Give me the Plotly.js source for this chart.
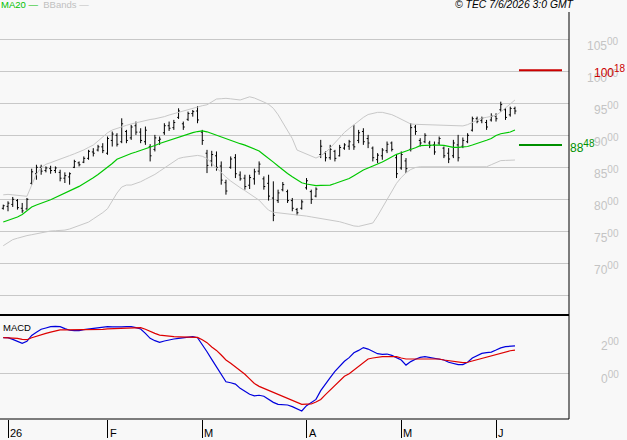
<!DOCTYPE html>
<html><head><meta charset="utf-8">
<script src="https://cdn.plot.ly/plotly-3.0.1.min.js"></script>
<style>html,body{margin:0;padding:0;background:#f8f8f8;}#chart{width:627px;height:440px;}</style>
</head><body><div id="chart"></div>
<script>
const dates = ["2025-12-31",
"2026-01-02","2026-01-05","2026-01-06","2026-01-07","2026-01-08","2026-01-09","2026-01-12","2026-01-13","2026-01-14","2026-01-15","2026-01-16","2026-01-19","2026-01-20","2026-01-21","2026-01-22","2026-01-23","2026-01-26","2026-01-27","2026-01-28","2026-01-29","2026-01-30",
"2026-02-02","2026-02-03","2026-02-04","2026-02-05","2026-02-06","2026-02-09","2026-02-10","2026-02-11","2026-02-12","2026-02-13","2026-02-16","2026-02-17","2026-02-18","2026-02-19","2026-02-20","2026-02-23","2026-02-24","2026-02-25","2026-02-26","2026-02-27",
"2026-03-02","2026-03-03","2026-03-04","2026-03-05","2026-03-06","2026-03-09","2026-03-10","2026-03-11","2026-03-12","2026-03-13","2026-03-16","2026-03-17","2026-03-18","2026-03-19","2026-03-20","2026-03-23","2026-03-24","2026-03-25","2026-03-26","2026-03-27","2026-03-30","2026-03-31",
"2026-04-01","2026-04-02","2026-04-07","2026-04-08","2026-04-09","2026-04-10","2026-04-13","2026-04-14","2026-04-15","2026-04-16","2026-04-17","2026-04-20","2026-04-21","2026-04-22","2026-04-23","2026-04-24","2026-04-27","2026-04-28","2026-04-29","2026-04-30",
"2026-05-04","2026-05-05","2026-05-06","2026-05-07","2026-05-08","2026-05-11","2026-05-12","2026-05-13","2026-05-14","2026-05-15","2026-05-18","2026-05-19","2026-05-20","2026-05-21","2026-05-22","2026-05-25","2026-05-26","2026-05-27","2026-05-28","2026-05-29",
"2026-06-01","2026-06-02","2026-06-03","2026-06-04","2026-06-05"];

const openP = [78.6,78.9,79.2,79.8,78.6,78.5,82.5,84.0,85.0,84.5,
84.8,84.5,84.2,83.3,83.5,85.0,85.7,85.8,86.4,87.4,
87.7,88.2,87.2,89.2,90.0,89.0,90.6,89.6,91.5,90.5,
89.0,88.2,87.8,89.2,90.4,91.5,91.2,92.8,91.8,92.5,
93.4,93.8,90.5,87.2,86.0,86.8,85.2,82.6,85.0,86.5,
83.8,83.3,82.2,83.2,84.4,83.2,82.5,80.2,79.8,81.5,
81.2,79.8,78.4,78.6,81.8,81.2,80.5,87.0,87.2,86.5,
87.5,86.8,88.0,88.3,88.5,89.2,90.6,89.5,88.0,86.2,
86.8,87.6,88.8,86.5,84.9,86.0,87.8,91.3,89.2,89.0,
88.8,88.5,88.8,88.0,87.2,86.8,88.5,88.3,89.0,90.8,
92.6,92.3,92.0,92.4,93.0,94.0,94.0,93.2,94.2];

const highP = [79.17,79.69,80.37,80.05,79.43,80.21,84.78,85.40,85.40,85.14,
85.24,85.14,84.62,84.21,84.21,86.18,85.92,86.70,87.73,87.99,
88.51,88.77,89.81,90.59,90.33,92.66,90.85,91.63,92.15,91.11,
91.37,88.62,90.07,89.81,91.89,92.15,92.41,94.22,92.15,93.70,
93.96,94.58,90.85,87.73,87.58,87.48,85.92,83.06,86.70,87.06,
84.36,83.84,83.84,84.78,85.92,83.58,83.84,82.81,81.51,82.70,
81.51,80.21,78.65,79.95,83.32,81.51,81.87,89.29,87.48,88.51,
87.73,88.51,88.77,89.29,91.63,90.85,91.11,90.07,88.25,87.22,
88.00,89.03,89.03,86.96,87.48,86.44,91.89,91.63,89.55,90.33,
89.14,89.03,89.81,88.25,88.00,89.29,90.07,89.66,90.33,92.92,
92.92,92.92,92.41,93.44,93.44,95.26,94.22,94.48,94.48];

const lowP = [78.39,78.13,78.81,78.39,77.88,78.39,82.29,83.06,83.84,84.21,
84.00,84.10,82.81,82.55,82.29,84.88,85.14,85.66,86.18,86.70,
87.48,87.22,86.96,88.25,88.25,88.77,88.77,89.29,90.07,88.77,
88.51,85.92,87.48,88.51,90.07,90.69,90.85,92.56,90.85,92.25,
92.92,91.89,88.51,84.10,85.14,84.47,82.29,80.73,84.78,83.32,
82.91,81.51,81.61,82.29,83.84,81.51,79.80,76.58,79.43,81.25,
79.43,78.13,77.51,78.39,81.51,79.28,80.31,86.44,85.92,86.18,
85.92,86.70,87.73,87.73,87.73,88.77,88.51,88.00,85.92,85.66,
86.18,87.22,87.48,83.32,84.62,84.10,87.48,90.07,88.25,88.77,
88.00,86.96,88.51,86.44,85.66,86.44,85.92,88.00,88.77,90.59,
91.89,91.89,90.85,92.15,92.15,93.70,92.41,92.92,93.29];

const closeP = [79.0,79.4,80.0,78.7,78.2,80.0,84.3,85.0,84.4,84.9,
84.5,84.9,83.3,83.7,84.0,85.9,85.4,86.4,87.5,87.2,
88.2,87.6,89.5,90.2,88.6,91.8,89.2,91.3,90.5,89.2,
90.8,86.8,89.6,89.4,91.5,91.1,92.0,93.8,91.3,93.4,
93.7,92.4,89.2,85.3,87.0,85.0,83.0,81.3,86.3,84.0,
83.2,82.0,83.4,84.3,85.5,82.0,80.5,77.5,81.0,82.3,
79.8,78.6,77.9,79.6,82.9,80.0,81.6,88.3,86.5,87.8,
86.4,88.1,88.5,89.0,88.2,90.4,89.0,88.8,86.5,86.9,
87.7,88.6,87.8,84.0,87.0,84.8,91.2,90.6,88.8,90.0,
88.4,87.4,89.5,86.8,86.3,88.8,86.5,89.2,90.0,92.6,
92.2,92.7,91.3,93.0,92.6,94.8,92.8,94.2,93.8];

const ma20 = [76.45,76.69,76.97,77.23,77.63,78.17,78.80,79.11,79.34,79.66,
79.94,80.31,80.67,81.02,81.34,81.67,82.02,82.44,82.86,83.38,
83.89,84.42,84.95,85.61,86.27,86.61,86.92,87.16,87.39,87.63,
87.86,88.06,88.41,88.72,88.97,89.20,89.45,89.70,89.95,90.20,
90.42,90.59,90.70,90.55,90.27,89.98,89.72,89.44,89.16,88.91,
88.69,88.47,88.17,87.86,87.55,86.95,86.42,85.81,85.20,84.58,
84.05,83.53,83.00,82.58,82.39,82.20,82.13,82.17,82.20,82.23,
82.47,82.70,82.92,83.25,83.69,84.16,84.59,84.89,85.19,85.47,
85.83,86.23,86.64,87.03,87.27,87.50,87.75,88.06,88.39,88.46,
88.50,88.49,88.47,88.44,88.28,88.13,88.12,88.13,88.25,88.48,
88.70,88.98,89.23,89.50,89.97,90.25,90.34,90.52,90.83];

const bbUpper = [80.70,80.77,80.70,80.59,80.48,80.47,82.23,83.95,84.95,85.48,
85.73,85.98,86.27,86.55,86.83,87.11,87.39,87.72,88.11,88.48,
89.11,89.78,90.39,90.83,91.11,91.33,91.56,91.78,91.97,92.16,
92.33,92.47,92.58,92.70,92.92,93.17,93.39,93.61,93.80,94.02,
94.23,94.47,94.63,94.77,95.20,95.67,95.72,95.78,95.70,95.61,
95.52,95.77,96.02,95.83,95.56,95.20,94.84,94.22,93.22,92.00,
90.83,89.50,87.70,87.39,87.08,86.77,86.45,86.81,87.31,88.03,
88.88,89.69,90.45,91.06,91.69,92.23,92.80,93.25,93.41,93.59,
93.59,93.42,93.23,92.89,92.48,92.11,91.77,91.72,91.69,91.67,
91.66,91.64,91.63,91.61,91.58,91.55,91.50,91.47,91.67,91.98,
92.36,92.70,92.81,92.92,93.13,93.66,94.30,94.89,95.52];

const bbLower = [72.75,73.27,73.70,73.92,74.16,74.33,74.47,74.63,74.77,74.92,
75.05,75.09,75.14,75.19,75.36,75.61,75.86,76.09,76.44,76.94,
77.42,77.92,78.53,79.77,80.98,81.92,82.23,82.23,82.44,82.75,
83.13,83.48,83.89,84.39,84.89,85.36,85.86,86.38,86.56,86.64,
86.73,86.86,86.73,86.38,85.63,84.86,84.16,83.48,82.86,82.30,
81.83,81.36,80.88,80.39,79.86,79.05,78.30,77.98,77.91,77.81,
77.73,77.67,77.59,77.50,77.38,77.25,77.14,77.02,76.89,76.77,
76.63,76.50,76.28,76.06,75.84,75.77,75.92,76.08,76.30,77.41,
78.70,79.98,81.23,82.50,83.41,84.13,84.66,84.97,85.09,85.09,
85.09,85.09,85.09,85.09,85.05,85.05,85.05,85.05,85.05,85.05,
85.00,85.05,85.09,85.41,85.75,86.05,86.08,86.11,86.14];

const macd = [2.14,2.14,2.04,1.92,1.80,1.92,2.28,2.47,2.65,2.73,
2.81,2.83,2.81,2.69,2.59,2.57,2.57,2.63,2.67,2.71,
2.75,2.79,2.81,2.79,2.77,2.79,2.81,2.81,2.75,2.67,
2.40,2.10,1.96,1.86,1.94,2.02,2.06,2.10,2.14,2.16,
2.20,2.14,1.74,1.29,0.83,0.38,-0.08,-0.53,-0.59,-0.67,
-0.93,-1.11,-1.29,-1.39,-1.35,-1.41,-1.60,-1.78,-1.90,-1.94,
-1.94,-2.04,-2.18,-2.30,-1.98,-1.80,-1.60,-1.07,-0.65,-0.28,
0.10,0.42,0.71,0.93,1.23,1.37,1.54,1.45,1.31,1.17,
1.13,1.15,1.07,0.95,0.79,0.48,0.69,0.83,0.95,0.99,
0.95,0.87,0.83,0.79,0.65,0.57,0.51,0.51,0.65,0.91,
1.07,1.19,1.23,1.27,1.39,1.52,1.60,1.64,1.64];

const signal = [2.14,2.14,2.14,2.10,2.04,2.02,2.14,2.24,2.32,2.40,
2.48,2.55,2.61,2.61,2.61,2.61,2.61,2.61,2.63,2.63,
2.64,2.65,2.67,2.68,2.70,2.71,2.73,2.74,2.76,2.75,
2.65,2.51,2.40,2.30,2.26,2.22,2.20,2.19,2.18,2.18,
2.17,2.16,2.02,1.84,1.58,1.37,1.09,0.79,0.59,0.38,
0.16,-0.08,-0.36,-0.63,-0.81,-0.93,-1.05,-1.17,-1.29,-1.41,
-1.53,-1.66,-1.78,-1.90,-1.89,-1.88,-1.76,-1.60,-1.31,-1.03,
-0.75,-0.44,-0.20,-0.04,0.18,0.40,0.65,0.85,0.91,0.97,
0.99,0.99,0.99,0.99,0.91,0.85,0.85,0.85,0.85,0.85,
0.85,0.85,0.85,0.79,0.75,0.69,0.64,0.63,0.65,0.73,
0.80,0.87,0.97,1.05,1.13,1.21,1.27,1.35,1.39];

const tickDates = ["2026-01-02","2026-02-02","2026-03-02","2026-04-01","2026-05-04","2026-06-01"];
const tickLabels = ["26","F","M","A","M","J"];
const priceGrid = [65,70,75,80,85,90,95,100,105];
const priceLabels = [70,75,80,85,90,95,100,105];
const macdLabels = [0,2];
const levelValues = [100.18, 88.48];
const levelColors = ["#cc0000", "#009000"];

const FONT = "Liberation Sans, Arial, sans-serif";

function supText(v) {
  const parts = v.toFixed(2).split(".");
  return parts[0] + '<sup><span style="font-size:10px">' + parts[1] + "</span></sup>";
}

const traces = [
  {type:"scatter", mode:"lines", x:dates, y:bbUpper, xaxis:"x", yaxis:"y",
   line:{color:"#c8c8c8", width:1}, hoverinfo:"skip"},
  {type:"scatter", mode:"lines", x:dates, y:bbLower, xaxis:"x", yaxis:"y",
   line:{color:"#c8c8c8", width:1}, hoverinfo:"skip"},
  {type:"scatter", mode:"lines", x:dates, y:ma20, xaxis:"x", yaxis:"y",
   line:{color:"#00c800", width:1.2}, hoverinfo:"skip"},
  {type:"ohlc", x:dates, open:openP, high:highP, low:lowP, close:closeP, xaxis:"x", yaxis:"y",
   increasing:{line:{color:"#000000", width:1}}, decreasing:{line:{color:"#000000", width:1}},
   tickwidth:0.3, hoverinfo:"skip"},
  {type:"scatter", mode:"lines", x:dates, y:macd, xaxis:"x", yaxis:"y2",
   line:{color:"#0000dd", width:1.2}, hoverinfo:"skip"},
  {type:"scatter", mode:"lines", x:dates, y:signal, xaxis:"x", yaxis:"y2",
   line:{color:"#dd0000", width:1.2}, hoverinfo:"skip"}
];

const annotations = [];
annotations.push({xref:"paper", yref:"paper", x:0, y:1.0172, xanchor:"left", yanchor:"middle", xshift:-1,
  showarrow:false, font:{family:FONT, size:9.5, color:"#00c000"},
  text:'<span style="color:#00c000">MA20 \u2014</span>\u00a0\u00a0<span style="color:#c0c0c0">BBands \u2014</span>'});
annotations.push({xref:"paper", yref:"paper", x:1.0123, y:1.0184, xanchor:"right", yanchor:"middle",
  showarrow:false, font:{family:FONT, size:10.4, color:"#000000"}, text:"<i>\u00a9 TEC 7/6/2026 3:0 GMT</i>"});
annotations.push({xref:"paper", yref:"paper", x:0, y:0.2248, xanchor:"left", yanchor:"middle", xshift:1,
  showarrow:false, font:{family:FONT, size:9.5, color:"#000000"}, text:"MACD"});
priceLabels.forEach(v => annotations.push({xref:"paper", yref:"y", x:1.0914, y:v, xanchor:"right", yanchor:"middle",
  yshift:-5, showarrow:false, font:{family:FONT, size:12, color:"#c4c4c4"}, text:supText(v)}));
macdLabels.forEach(v => annotations.push({xref:"paper", yref:"y2", x:1.0914, y:v, xanchor:"right", yanchor:"middle",
  yshift:-4, showarrow:false, font:{family:FONT, size:12, color:"#c4c4c4"}, text:supText(v)}));
const levelX = [1.0404, 0.9982];
levelValues.forEach((v,k) => annotations.push({xref:"paper", yref:"y", x:levelX[k], y:v, xanchor:"left", yanchor:"middle",
  yshift:-1, showarrow:false, font:{family:FONT, size:12, color:levelColors[k]}, text:supText(v)}));
tickDates.forEach((d,k) => annotations.push({xref:"x", yref:"paper", x:dates.indexOf(d), y:0, xanchor:"left", yanchor:"top",
  yshift:-6, showarrow:false, font:{family:FONT, size:11, color:"#000000"}, text:tickLabels[k]}));

const shapes = [
  {type:"line", xref:"paper", yref:"paper", x0:1, x1:1, y0:0, y1:1, line:{color:"#000000", width:1}},
  {type:"line", xref:"paper", yref:"paper", x0:0, x1:1, y0:0, y1:0, line:{color:"#000000", width:1}},
  {type:"line", xref:"paper", yref:"paper", x0:0, x1:1, y0:0.25553, y1:0.25553, line:{color:"#000000", width:2}}
];
levelValues.forEach((v,k) => shapes.push({type:"line", xref:"paper", yref:"y", x0:0.9121, x1:0.9877, y0:v, y1:v,
  line:{color:levelColors[k], width:2}}));

const layout = {
  width:627, height:440,
  margin:{l:0, r:58, t:12, b:21, pad:0},
  paper_bgcolor:"#f8f8f8", plot_bgcolor:"#f8f8f8",
  font:{family:FONT, size:11, color:"#000"},
  showlegend:false,
  xaxis:{type:"category", anchor:"y2", range:[-0.6885, 119.40], autorange:false,
    showgrid:false, zeroline:false, showline:false,
    tickmode:"array", tickvals:tickDates, ticks:"outside", ticklen:18, tickwidth:1, tickcolor:"#000000",
    showticklabels:false, rangeslider:{visible:false}, fixedrange:true},
  yaxis:{domain:[0.25799,1], range:[62.08,109.27], autorange:false, anchor:"x", side:"right",
    tickmode:"array", tickvals:priceGrid, showgrid:true, gridcolor:"#c8c8c8", gridwidth:1,
    showticklabels:false, ticks:"", zeroline:false, showline:false, fixedrange:true},
  yaxis2:{domain:[0,0.25307], range:[-2.788,3.455], autorange:false, anchor:"x", side:"right",
    showgrid:false, zeroline:true, zerolinecolor:"#c8c8c8", zerolinewidth:1,
    showticklabels:false, ticks:"", showline:false, fixedrange:true},
  annotations:annotations,
  shapes:shapes
};

Plotly.newPlot("chart", traces, layout, {staticPlot:true, displayModeBar:false});
</script></body></html>
